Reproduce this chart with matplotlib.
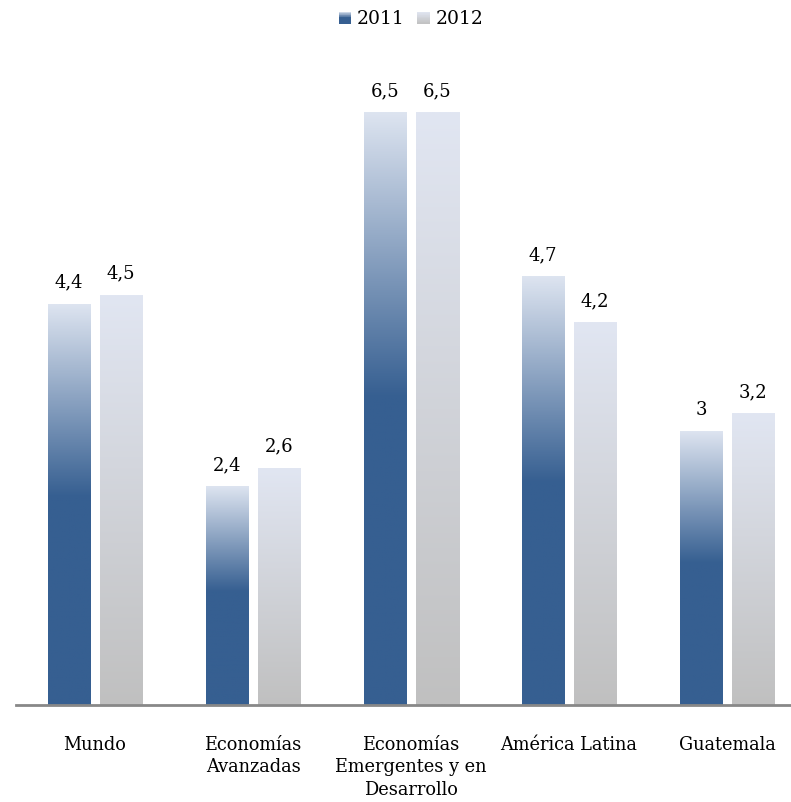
# Crecimiento económico 2011-2012: barras con degradado
import numpy as np
import matplotlib
matplotlib.use('Agg')
import matplotlib.pyplot as plt
from matplotlib.colors import LinearSegmentedColormap
from matplotlib.patches import Rectangle
from matplotlib.legend_handler import HandlerBase

# %%Datos
categorias = ['Mundo', 'Economías\nAvanzadas', 'Economías\nEmergentes y en\nDesarrollo',
              'América Latina', 'Guatemala']
serie_2011 = [4.4, 2.4, 6.5, 4.7, 3.0]
serie_2012 = [4.5, 2.6, 6.5, 4.2, 3.2]
nombres = ['2011', '2012']

# %%Colores
azul_osc = '#365F91'
azul_cla = '#DDE4F0'
gris_osc = '#C0C0C0'
gris_cla = '#E1E6F2'

# degradado: abajo -> arriba
cmap_2011 = LinearSegmentedColormap.from_list(
    'az', [(0.0, azul_osc), (0.52, azul_osc), (1.0, azul_cla)])
cmap_2012 = LinearSegmentedColormap.from_list(
    'gr', [(0.0, gris_osc), (1.0, gris_cla)])

plt.rcParams['font.family'] = ['DejaVu Serif']

fig = plt.figure(figsize=(7.91, 8.02), dpi=100)
ax = fig.add_axes([16/791, (802-705)/802, 1 - 16/791, (705-40)/802])

x = np.arange(len(categorias))
ancho = 43/158
sep = 9/158
grad = np.linspace(0, 1, 256).reshape(-1, 1)

def barras_degradado(pos, valores, cmap):
    rects = ax.bar(pos, valores, width=ancho, color='none', edgecolor='none')
    for r, v in zip(rects, valores):
        x0 = r.get_x()
        ax.imshow(grad, cmap=cmap, origin='lower', aspect='auto',
                  extent=[x0, x0 + r.get_width(), 0, r.get_height()], zorder=2)
        txt = f'{v:g}'.replace('.', ',')
        ax.annotate(txt, (x0 + r.get_width()/2, r.get_height()),
                    xytext=(0, 9), textcoords='offset points',
                    ha='center', va='bottom', fontsize=13, color='black')
    return rects

barras_degradado(x - (ancho + sep)/2, serie_2011, cmap_2011)
barras_degradado(x + (ancho + sep)/2, serie_2012, cmap_2012)

ax.set_xlim(-0.5, -0.5 + 775/158)
ax.set_ylim(0, 665/91.08)

for lado in ['top', 'right', 'left']:
    ax.spines[lado].set_visible(False)
ax.spines['bottom'].set_color('#888888')
ax.spines['bottom'].set_linewidth(2)
ax.set_yticks([])
ax.set_xticks(x)
ax.set_xticklabels(categorias, fontsize=12.8, linespacing=1.35, color='black')
ax.tick_params(axis='x', length=0, pad=22)


# leyenda con cuadros de degradado
class HandlerDegradado(HandlerBase):
    def __init__(self, cmap):
        super().__init__()
        self.cmap = cmap

    def create_artists(self, legend, orig_handle, xdescent, ydescent,
                       width, height, fontsize, trans):
        n = 20
        lado = height
        x0 = -xdescent + width - lado
        arts = []
        for i in range(n):
            r = Rectangle((x0, -ydescent + lado*i/n), lado, lado/n + 0.05,
                          facecolor=self.cmap(i/(n - 1)), edgecolor='none',
                          transform=trans)
            arts.append(r)
        return arts

h1 = Rectangle((0, 0), 1, 1)
h2 = Rectangle((0, 0), 1, 1)
fig.legend([h1, h2], nombres, loc='upper center', bbox_to_anchor=(0.52, 1.008),
           ncol=2, frameon=False, fontsize=13.5, handlelength=0.65,
           handleheight=0.65, handletextpad=0.3, columnspacing=0.7,
           handler_map={h1: HandlerDegradado(cmap_2011),
                        h2: HandlerDegradado(cmap_2012)})

fig.savefig('out.png', dpi=100)
